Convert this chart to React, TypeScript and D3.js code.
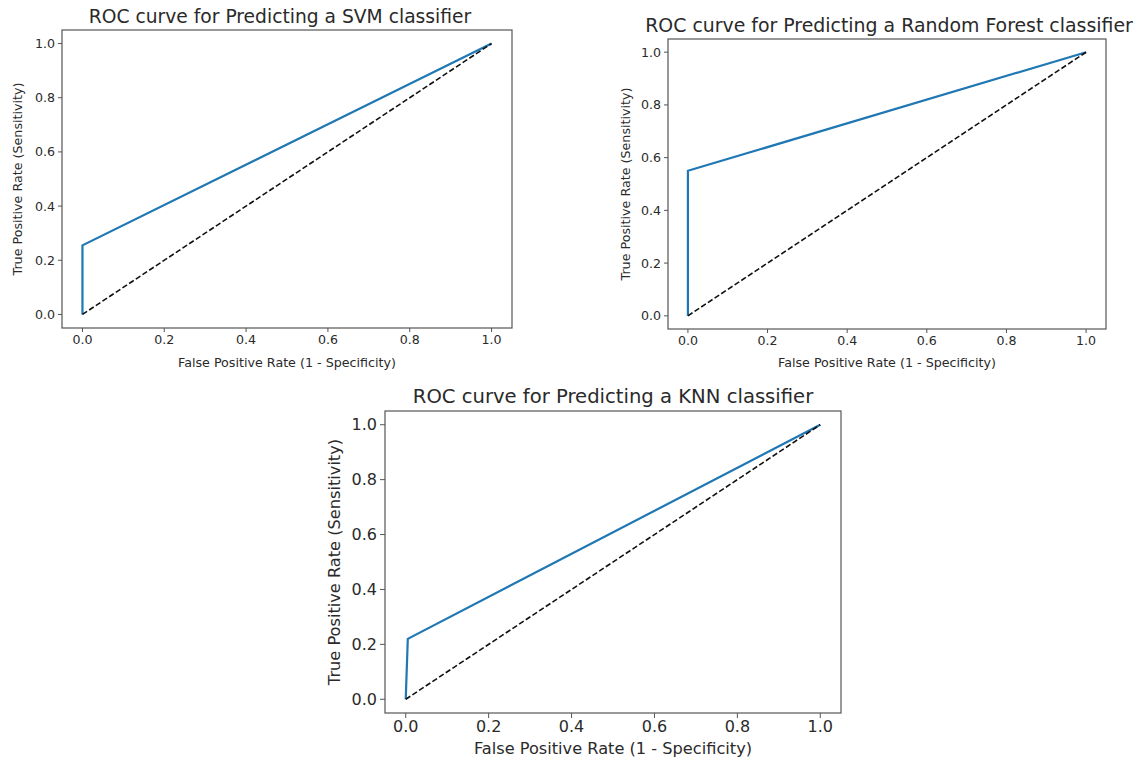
import React from "react";
import * as d3 from "d3";

const svmFpr = [0, 0, 1];
const svmTpr = [0, 0.255, 1];
const rfFpr = [0, 0, 1];
const rfTpr = [0, 0.55, 1];
const knnFpr = [0, 0.005, 1];
const knnTpr = [0, 0.22, 1];
const chanceLine = [0, 1];
const tickValues = [0, 0.2, 0.4, 0.6, 0.8, 1.0];

const titles = [
  "ROC curve for Predicting a SVM classifier",
  "ROC curve for Predicting a Random Forest classifier",
  "ROC curve for Predicting a KNN classifier",
];
const xLabel = "False Positive Rate (1 - Specificity)";
const yLabel = "True Positive Rate (Sensitivity)";

type PanelCfg = {
  left: number; top: number; right: number; bottom: number;
  fpr: number[]; tpr: number[]; title: string;
  titleY: number; titleSize: number; tickSize: number; labelSize: number;
  xLabelY: number; yLabelX: number; tickLen: number; titleX?: number;
};

const panels: PanelCfg[] = [
  { left: 62, top: 30, right: 512, bottom: 328, fpr: svmFpr, tpr: svmTpr, title: titles[0],
    titleY: 23, titleSize: 18.7, tickSize: 12.6, labelSize: 12.7, xLabelY: 367, yLabelX: 22, tickLen: 4, titleX: 280 },
  { left: 668, top: 39, right: 1106, bottom: 329, fpr: rfFpr, tpr: rfTpr, title: titles[1],
    titleY: 32, titleSize: 18.9, tickSize: 12.6, labelSize: 12.7, xLabelY: 367, yLabelX: 630, tickLen: 4, titleX: 889 },
  { left: 385, top: 411, right: 841, bottom: 713, fpr: knnFpr, tpr: knnTpr, title: titles[2],
    titleY: 403, titleSize: 19.6, tickSize: 16, labelSize: 16.2, xLabelY: 754, yLabelX: 340, tickLen: 5 },
];

const TEXT = "#2a2a2a";
const FONT = "DejaVu Sans, sans-serif";

function Panel({ p }: { p: PanelCfg }) {
  const w = p.right - p.left;
  const h = p.bottom - p.top;
  const x = d3.scaleLinear().domain([-0.05, 1.05]).range([p.left, p.right]);
  const y = d3.scaleLinear().domain([-0.05, 1.05]).range([p.bottom, p.top]);
  const line = d3.line<[number, number]>().x((d) => x(d[0])).y((d) => y(d[1]));
  const roc = p.fpr.map((v, i) => [v, p.tpr[i]] as [number, number]);
  const chance = chanceLine.map((v) => [v, v] as [number, number]);
  const cx = p.titleX ?? (p.left + p.right) / 2;
  return (
    <g fontFamily={FONT} fill={TEXT}>
      <text x={cx} y={p.titleY} textAnchor="middle" fontSize={p.titleSize}>{p.title}</text>
      <path d={line(roc) || ""} fill="none" stroke="#1f77b4" strokeWidth={2.2} strokeLinejoin="miter" />
      <path d={line(chance) || ""} fill="none" stroke="#111" strokeWidth={1.6} strokeDasharray="5.5,2.5" />
      <rect x={p.left} y={p.top} width={w} height={h} fill="none" stroke="#555" strokeWidth={1.2} />
      {tickValues.map((t) => (
        <g key={"x" + t}>
          <line x1={x(t)} x2={x(t)} y1={p.bottom} y2={p.bottom + p.tickLen} stroke="#555" strokeWidth={1} />
          <text x={x(t)} y={p.bottom + p.tickLen + 3} dy="0.71em" textAnchor="middle" fontSize={p.tickSize}>
            {d3.format(".1f")(t)}
          </text>
          <line x1={p.left - p.tickLen} x2={p.left} y1={y(t)} y2={y(t)} stroke="#555" strokeWidth={1} />
          <text x={p.left - p.tickLen - 3} y={y(t)} dy="0.35em" textAnchor="end" fontSize={p.tickSize}>
            {d3.format(".1f")(t)}
          </text>
        </g>
      ))}
      <text x={(p.left + p.right) / 2} y={p.xLabelY} textAnchor="middle" fontSize={p.labelSize}>{xLabel}</text>
      <text transform={`translate(${p.yLabelX},${(p.top + p.bottom) / 2}) rotate(-90)`} textAnchor="middle" fontSize={p.labelSize}>
        {yLabel}
      </text>
    </g>
  );
}

export default function App() {
  return (
    <svg width={1139} height={762} style={{ position: "absolute", left: 0, top: 0, background: "#fff" }}>
      <rect width={1139} height={762} fill="#fff" />
      {panels.map((p, i) => (
        <Panel key={i} p={p} />
      ))}
    </svg>
  );
}
